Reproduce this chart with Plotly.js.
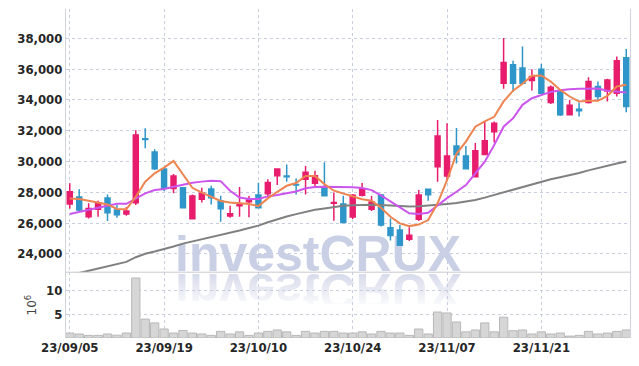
<!DOCTYPE html>
<html>
<head>
<meta charset="utf-8">
<script src="https://cdn.plot.ly/plotly-3.0.1.min.js"></script>
<style>
  html, body { margin:0; padding:0; background:#fff; }
  #wrap { position:relative; width:639px; height:366px; overflow:hidden; }
  .wm { position:absolute; font-family:"Liberation Sans", Arial, sans-serif; font-weight:bold; font-size:50px; line-height:50px; white-space:nowrap; }
  #wm1 { left:175px; top:229px; color:#c9cfe4; }
  #refl { position:absolute; left:175px; top:274px; width:300px; height:30px; overflow:hidden;
          -webkit-mask-image:linear-gradient(to bottom, rgba(0,0,0,0.9) 0%, rgba(0,0,0,0.15) 100%);
          mask-image:linear-gradient(to bottom, rgba(0,0,0,0.9) 0%, rgba(0,0,0,0.15) 100%); }
  #wm2 { left:0; top:-42px; color:#d3d7e8; transform-origin:0 42px; transform:scaleY(-1); }
  #chart { position:absolute; left:0; top:0; width:639px; height:366px; }
</style>
</head>
<body>
<div id="wrap">
  <div class="wm" id="wm1">investCRUX</div>
  <div id="refl"><div class="wm" id="wm2">investCRUX</div></div>
  <div id="chart"></div>
</div>
<script>
const dates = ["23/09/05","23/09/06","23/09/07","23/09/08","23/09/11","23/09/12","23/09/13","23/09/14","23/09/15","23/09/18",
 "23/09/19","23/09/20","23/09/21","23/09/22","23/09/25","23/09/26","23/09/27","23/10/04","23/10/05","23/10/06",
 "23/10/10","23/10/11","23/10/12","23/10/13","23/10/16","23/10/17","23/10/18","23/10/19","23/10/20","23/10/23",
 "23/10/24","23/10/25","23/10/26","23/10/27","23/10/30","23/10/31","23/11/01","23/11/02","23/11/03","23/11/06",
 "23/11/07","23/11/08","23/11/09","23/11/10","23/11/13","23/11/14","23/11/15","23/11/16","23/11/17","23/11/20",
 "23/11/21","23/11/22","23/11/23","23/11/24","23/11/27","23/11/28","23/11/29","23/11/30","23/12/01","23/12/04"];

const openP = [27230,27690,26400,26900,27620,26840,26580,27320,31480,30620,
 29510,28250,28290,26280,27540,28210,27430,26450,27120,27380,
 27820,27900,29070,29060,28510,28840,28580,28360,27280,27230,
 26390,27800,26890,27820,25690,25540,24950,26250,28190,29660,
 29060,31000,30360,29010,30460,31930,35080,36290,36070,35260,
 36000,33830,34520,33030,33400,33830,34870,34580,34440,36740];

const highP = [28580,28190,27280,27450,27860,27170,27040,32030,32160,30790,
 29660,29190,28340,27860,28290,28420,27770,27120,28340,27750,
 28620,28840,29560,29800,28900,29710,29400,29950,27990,27770,
 27880,28600,27750,27880,26300,25870,25720,28140,28210,32700,
 32490,32180,31000,31200,32610,32600,38020,36550,37470,36000,
 36350,34930,34650,34000,33830,35480,35190,35370,36820,37300];

const lowP = [26950,26730,26300,26400,26130,26340,26470,27170,30860,29450,
 28080,27930,26950,26250,27340,27210,26080,26340,26400,26370,
 26950,27710,28470,28680,27860,27860,28340,27770,26150,26000,
 26260,27730,26780,25780,24870,24500,24840,26130,27450,28680,
 28750,29860,29530,28970,30400,31230,34720,34520,35050,34610,
 34390,33740,32960,32990,32920,33760,33960,33890,34220,33190];

const closeP = [28030,26840,26950,27320,26670,26540,26780,31720,31420,29530,
 28250,29060,26990,27750,27930,27640,26930,26600,27250,27490,
 26990,28640,29510,29010,28470,29300,29070,27770,27340,26040,
 27800,28230,27360,25870,25190,24560,25210,27820,27840,31660,
 30360,30440,29530,30700,31350,32490,36430,35080,35080,35520,
 34440,34830,33030,33660,33290,35190,34220,35300,36540,33570];

const maShort = [27600,27560,27450,27340,27210,26910,26890,27710,28690,29230,
 29600,30030,29120,28290,27970,27710,27430,27340,27280,27230,
 27100,27600,28030,28420,28600,29060,29060,28530,28100,27900,
 27730,27540,27450,26990,26410,25980,25800,25900,26190,27280,
 28790,30500,31290,32260,32600,32900,33900,34600,35050,35570,
 35590,35190,34650,34220,33890,33940,33940,34260,34870,34980];

const maMid = [26580,26730,26890,26990,27120,27250,27250,27600,27930,28140,
 28210,28360,28500,28620,28690,28750,28720,28100,27660,27560,
 27560,27730,27820,27930,28050,28260,28340,28350,28350,28360,
 28320,28270,28140,27790,27380,27020,26630,26580,26670,27170,
 27620,28030,28470,29230,29990,31070,32260,32810,33680,34110,
 34330,34520,34630,34700,34720,34740,34740,34590,34540,34480];

const maLong = [22680,22760,22900,23040,23180,23320,23476,23780,24000,24150,
 24300,24480,24660,24800,24960,25080,25200,25350,25520,25680,
 25830,26050,26250,26420,26580,26720,26860,26950,27040,27120,
 27160,27180,27180,27170,27140,27100,27080,27090,27130,27170,
 27240,27300,27380,27500,27650,27820,28000,28200,28380,28550,
 28700,28850,28980,29100,29250,29420,29580,29730,29870,30000];

const volume = [1.05,0.85,0.55,0.55,0.85,0.6,1.05,12.7,4.0,3.2,
 1.9,1.05,1.6,1.05,0.85,0.55,1.4,0.85,1.3,0.55,
 1.05,1.4,1.7,1.3,0.55,1.4,1.05,1.4,1.4,1.05,
 1.05,1.3,0.85,1.4,1.05,1.05,0.55,1.9,0.85,5.5,
 5.3,3.4,1.3,1.7,3.2,1.3,4.4,1.55,1.7,0.85,
 1.3,0.85,1.05,0.4,0.55,1.4,0.85,1.05,1.4,1.7];

const tickDates = [dates[0], dates[10], dates[20], dates[30], dates[40], dates[50]];

const UP = 'rgb(232,28,108)';
const DOWN = 'rgb(46,150,200)';
const GRID = '#c9cde0';
const TICKFONT = {family:'"DejaVu Sans Condensed","Liberation Sans Narrow",sans-serif', size:13, weight:'bold', color:'#262626'};

const traces = [
  {type:'scatter', mode:'lines', x:dates, y:maLong, line:{color:'#808080', width:2}, xaxis:'x', yaxis:'y', hoverinfo:'skip'},
  {type:'scatter', mode:'lines', x:dates, y:maMid, line:{color:'#cc55ee', width:2}, xaxis:'x', yaxis:'y', hoverinfo:'skip'},
  {type:'scatter', mode:'lines', x:dates, y:maShort, line:{color:'#ee8450', width:2}, xaxis:'x', yaxis:'y', hoverinfo:'skip'},
  {type:'candlestick', x:dates, open:openP, high:highP, low:lowP, close:closeP, xaxis:'x', yaxis:'y',
   increasing:{line:{color:UP, width:1.5}, fillcolor:UP},
   decreasing:{line:{color:DOWN, width:1.5}, fillcolor:DOWN},
   whiskerwidth:0},
  {type:'bar', x:dates, y:volume, xaxis:'x', yaxis:'y2',
   marker:{color:'#d6d6d6', line:{color:'#b8b8b8', width:1}}}
];

const layout = {
  width:639, height:366,
  margin:{l:66, r:9, t:9, b:28},
  paper_bgcolor:'rgba(0,0,0,0)', plot_bgcolor:'rgba(0,0,0,0)',
  showlegend:false,
  boxgap:0.25, bargap:0.12,
  xaxis:{type:'category', anchor:'y2', range:[-0.4, 59.4], tickmode:'array', tickvals:tickDates,
    showgrid:true, gridcolor:GRID, griddash:'dot', gridwidth:1, tickfont:TICKFONT, ticks:'',
    rangeslider:{visible:false}, showline:false, zeroline:false},
  yaxis:{domain:[0.2,1], range:[22805, 39907], tickmode:'linear', tick0:24000, dtick:2000, tickformat:',d',
    showgrid:true, gridcolor:GRID, griddash:'dot', gridwidth:1, tickfont:TICKFONT, ticks:'',
    showline:true, mirror:true, linecolor:'#d3d3dc', linewidth:1, zeroline:false},
  yaxis2:{domain:[0,0.2], range:[0, 13.93], tickvals:[5,10], ticktext:['5','10'],
    showgrid:true, gridcolor:GRID, griddash:'dot', gridwidth:1, tickfont:TICKFONT, ticks:'',
    showline:true, mirror:true, linecolor:'#d3d3dc', linewidth:1, zeroline:false,
    title:{text:'10<sup>6</sup>', font:{family:'"DejaVu Sans",sans-serif', size:12, color:'#444'}, standoff:6}},
  shapes:[{type:'line', xref:'paper', yref:'paper', x0:0, x1:1, y0:0.2, y1:0.2, line:{color:'#c8c8d0', width:1}}]
};

Plotly.newPlot('chart', traces, layout, {displayModeBar:false, staticPlot:true});
</script>
</body>
</html>
